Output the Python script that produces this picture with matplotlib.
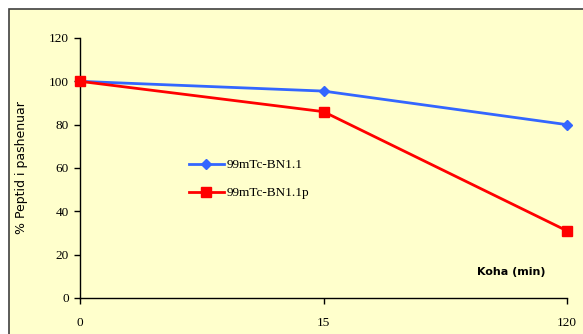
import matplotlib
matplotlib.use("Agg")
import matplotlib.pyplot as plt
from matplotlib.patches import Rectangle

# data
koha = ["0", "15", "120"]
bn11 = [100, 95.5, 80]
bn11p = [100, 86, 31]
yticks = [0, 20, 40, 60, 80, 100, 120]

W, H = 583, 334
fig = plt.figure(figsize=(W / 100, H / 100), dpi=100)
fig.patch.set_facecolor("white")

# chart area frame (pale yellow, runs off the right/bottom edge)
fig.patches.append(Rectangle((9 / W, -0.1), 1.2, 1 - 9 / H + 0.1, transform=fig.transFigure,
                             facecolor="#FFFFCC", edgecolor="#404040", linewidth=1.2, zorder=-5))

ax = fig.add_axes([80 / W, 1 - 298 / H, (567 - 80) / W, (298 - 38) / H])
ax.set_facecolor("none")

x = list(range(len(koha)))
ax.plot(x, bn11, color="#3366FF", lw=2, marker="D", ms=5.5, label="99mTc-BN1.1", clip_on=False, zorder=3)
ax.plot(x, bn11p, color="#FF0000", lw=2, marker="s", ms=6.5, label="99mTc-BN1.1p", clip_on=False, zorder=3)

ax.set_xlim(0, 2)
ax.set_ylim(0, 120)
ax.set_xticks(x)
ax.set_xticklabels(koha)
ax.set_yticks(yticks)
for s in ["top", "right"]:
    ax.spines[s].set_visible(False)
for s in ["left", "bottom"]:
    ax.spines[s].set_color("black")
    ax.spines[s].set_linewidth(1)
ax.tick_params(direction="out", length=4, width=1, labelsize=9.5)
ax.tick_params(axis="x", pad=10)
ax.tick_params(axis="y", pad=4)
for lab in ax.get_xticklabels() + ax.get_yticklabels():
    lab.set_family("Liberation Serif")

ax.set_ylabel("% Peptid i pashenuar", fontsize=9, family="DejaVu Sans", labelpad=15)

ax.text(1.63, 10.5, "Koha (min)", fontsize=8, fontweight="bold", family="DejaVu Sans")

leg = ax.legend(loc="upper left", bbox_to_anchor=(0.2, 0.58), frameon=False,
                prop={"family": "Liberation Serif", "size": 9.5}, handlelength=2.6,
                labelspacing=1.2, handletextpad=0.2)

fig.savefig("out.png", dpi=100, facecolor=fig.get_facecolor())
